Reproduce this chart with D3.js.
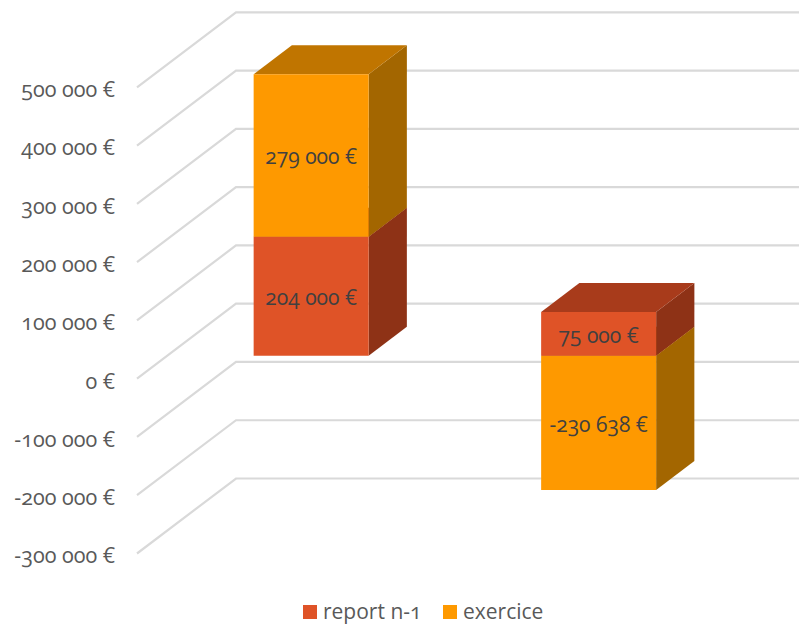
<!DOCTYPE html>
<html>
<head>
<meta charset="utf-8">
<script src="https://cdn.jsdelivr.net/npm/d3@7"></script>
<style>
html, body { margin: 0; padding: 0; background: #fff; }
svg { display: block; }
text { font-family: "Open Sans", "Lato", sans-serif; font-feature-settings: "onum" 1; font-variant-numeric: oldstyle-nums; }
</style>
</head>
<body>
<div id="chart"></div>
<script>
// data
const categories = ["A", "B"];
const seriesNames = ["report n-1", "exercice"];
const reportValues = [204000, 75000];
const exerciceValues = [279000, -230638];
const tickValues = [500000, 400000, 300000, 200000, 100000, 0, -100000, -200000, -300000];
const seriesColors = ["#df5327", "#fe9900"];
const topColors = ["#a83b1b", "#c07500"];
const sideColors = ["#8e3216", "#a36600"];

const width = 799, height = 624;
const svg = d3.select("#chart").append("svg").attr("width", width).attr("height", height);

const fmt = v => d3.formatLocale({decimal: ",", thousands: " ", grouping: [3], currency: ["", " €"], minus: "-"}).format(",")(v) + " €";

// scales: u along the front edge, v the values, d the depth into the box
const xBand = d3.scaleBand().domain(categories).range([137, 712]).paddingInner(0.6).paddingOuter(0.3);
const yScale = d3.scaleLinear().domain([-300000, 500000]).range([553.5, 87.3]);
const depthX = d3.scaleLinear().domain([0, 1]).range([0, 99]);
const depthY = d3.scaleLinear().domain([0, 1]).range([0, -75]);
const barDepth = [0.307, 0.693];

const pt = (x, v, d) => [x + depthX(d), yScale(v) + depthY(d)];
const poly = pts => "M" + pts.map(p => p.join(",")).join("L") + "Z";

// gridlines, floor wall then back wall
const gridPath = v => {
    const a = pt(137, v, 0), b = pt(137, v, 1), c = pt(712, v, 1);
    return "M" + a + "L" + b + "L" + c;
};
svg.append("g").attr("id", "grid").selectAll("path").data(tickValues).enter().append("path")
    .attr("d", gridPath).attr("fill", "none").attr("stroke", "#d9d9d9").attr("stroke-width", 2.2);

// value axis
const axis = d3.axisLeft(yScale).tickValues(tickValues).tickFormat(fmt).tickSize(0).tickPadding(0);
const axisG = svg.append("g").attr("id", "axis").attr("transform", "translate(115,2.5)").call(axis);
axisG.select(".domain").remove();
axisG.selectAll("text").attr("fill", "#595959").attr("font-size", 21.5)
    .style("font-family", "\"Open Sans\", \"Lato\", sans-serif");

// stacked bars
const table = categories.map((c, i) => ({cat: c, [seriesNames[0]]: reportValues[i], [seriesNames[1]]: exerciceValues[i]}));
const stacked = d3.stack().keys(seriesNames).offset(d3.stackOffsetDiverging)(table);

const segments = [];
stacked.forEach((s, si) => s.forEach(d => {
    const lo = Math.min(d[0], d[1]), hi = Math.max(d[0], d[1]);
    segments.push({si: si, cat: d.data.cat, lo: lo, hi: hi, value: d.data[s.key]});
}));
segments.sort((a, b) => a.hi - b.hi);

const bars = svg.append("g").attr("id", "bars");
segments.forEach(s => {
    const x0 = xBand(s.cat), x1 = x0 + xBand.bandwidth();
    const d0 = barDepth[0], d1 = barDepth[1];
    bars.append("path").attr("fill", sideColors[s.si])
        .attr("d", poly([pt(x1, s.hi, d0), pt(x1, s.hi, d1), pt(x1, s.lo, d1), pt(x1, s.lo, d0)]));
    bars.append("path").attr("fill", topColors[s.si])
        .attr("d", poly([pt(x0, s.hi, d0), pt(x0, s.hi, d1), pt(x1, s.hi, d1), pt(x1, s.hi, d0)]));
    bars.append("path").attr("fill", seriesColors[s.si])
        .attr("d", poly([pt(x0, s.hi, d0), pt(x1, s.hi, d0), pt(x1, s.lo, d0), pt(x0, s.lo, d0)]));
});

// data labels
svg.append("g").attr("id", "labels").selectAll("text").data(segments).enter().append("text")
    .attr("x", d => pt(xBand(d.cat) + xBand.bandwidth() / 2, 0, barDepth[0])[0])
    .attr("y", d => pt(0, (d.lo + d.hi) / 2, barDepth[0])[1] + 9)
    .attr("text-anchor", "middle").attr("fill", "#404040").attr("font-size", 21)
    .text(d => fmt(d.value));

// legend
const legendX = [303, 443];
const legend = svg.append("g").attr("id", "legend").selectAll("g").data(seriesNames).enter().append("g")
    .attr("transform", (d, i) => "translate(" + legendX[i] + ",605)");
legend.append("rect").attr("width", 14).attr("height", 14).attr("fill", (d, i) => seriesColors[i]);
legend.append("text").attr("x", 20).attr("y", 14).attr("fill", "#595959").attr("font-size", 21).text(d => d);
</script>
</body>
</html>
